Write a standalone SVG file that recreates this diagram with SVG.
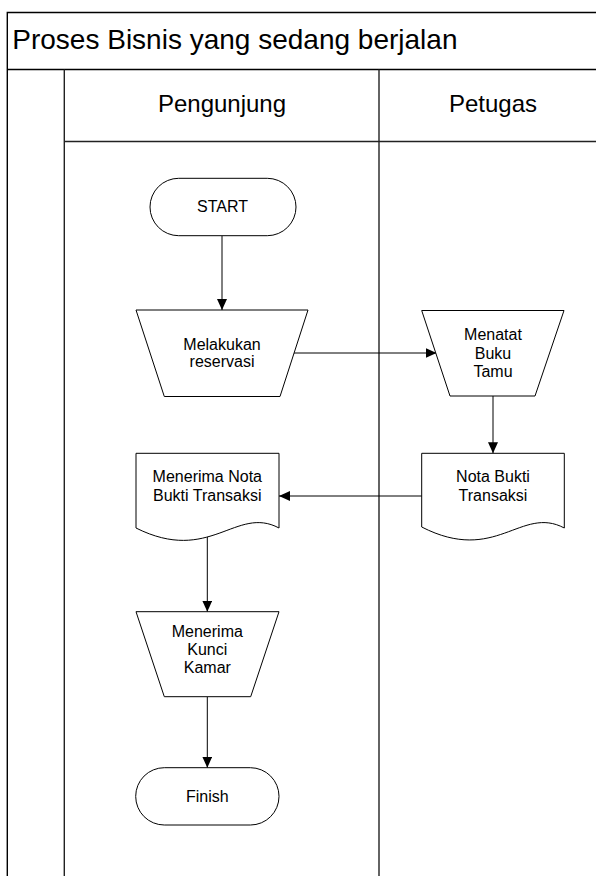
<svg xmlns="http://www.w3.org/2000/svg" width="596" height="876" viewBox="0 0 596 876">
<style>
  .frame { fill: none; stroke: #000; stroke-width: 1.4; }
  .lane { fill: none; stroke: #222; stroke-width: 1.4; }
  .shape { fill: #fff; stroke: #000; stroke-width: 1; }
  .conn { fill: none; stroke: #000; stroke-width: 1; }
  .t { font-family: "Liberation Sans", Arial, sans-serif; fill: #000; text-anchor: middle; font-size: 16px; }
  .title { font-family: "Liberation Sans", Arial, sans-serif; fill: #000; font-size: 28px; }
  .hdr { font-family: "Liberation Sans", Arial, sans-serif; fill: #000; font-size: 24px; text-anchor: middle; }
</style>
<defs>
  <marker id="arrow" markerWidth="11" markerHeight="10" refX="11" refY="5" orient="auto" markerUnits="userSpaceOnUse">
    <path d="M0,0 L11,5 L0,10 Z" fill="#000"/>
  </marker>
</defs>
<rect width="596" height="876" fill="#fff"/>
<g id="pool">
  <path class="frame" d="M7.3,880 V12.5 H600"/>
  <path class="frame" d="M7.3,69.5 H600"/>
  <path class="lane" d="M64.3,69.5 V880"/>
  <path class="lane" d="M379,69.5 V880"/>
  <path class="lane" d="M64.3,141.5 H600"/>
  <text class="title" x="12.3" y="49.3">Proses Bisnis yang sedang berjalan</text>
  <text class="hdr" x="222" y="112">Pengunjung</text>
  <text class="hdr" x="493" y="112">Petugas</text>
</g>
<g id="connectors">
  <path class="conn" d="M222,236 V310" marker-end="url(#arrow)"/>
  <path class="conn" d="M292,353 H436.5" marker-end="url(#arrow)"/>
  <path class="conn" d="M493,396 V453.3" marker-end="url(#arrow)"/>
  <path class="conn" d="M422,496 H279" marker-end="url(#arrow)"/>
  <path class="conn" d="M207.3,536 V611.7" marker-end="url(#arrow)"/>
  <path class="conn" d="M207.3,697 V767.7" marker-end="url(#arrow)"/>
</g>
<g id="start">
  <rect class="shape" x="150" y="178.3" width="146" height="57.4" rx="28.7"/>
  <text class="t" x="222.5" y="212">START</text>
</g>
<g id="melakukan-reservasi">
  <path class="shape" d="M136,310 H308 L280,396.5 H164.3 Z"/>
  <text class="t" x="222" y="350">Melakukan</text>
  <text class="t" x="222" y="367">reservasi</text>
</g>
<g id="menatat-buku-tamu">
  <path class="shape" d="M421.7,310.5 H564 L535,396 H450 Z"/>
  <text class="t" x="493" y="340">Menatat</text>
  <text class="t" x="493" y="358.5">Buku</text>
  <text class="t" x="493" y="377">Tamu</text>
</g>
<g id="nota-bukti-transaksi">
  <path class="shape" d="M421.7,453.3 H564.3 V528 C521,505 496,565 421.7,527 Z"/>
  <text class="t" x="493" y="482.3">Nota Bukti</text>
  <text class="t" x="493" y="501">Transaksi</text>
</g>
<g id="menerima-nota">
  <path class="shape" d="M136,453.3 H279 V528 C236,505 210,565 136,528 Z"/>
  <text class="t" x="207.3" y="482.3">Menerima Nota</text>
  <text class="t" x="207.3" y="500.5">Bukti Transaksi</text>
</g>
<g id="menerima-kunci">
  <path class="shape" d="M136,611.7 H279 L250.7,696.7 H164.3 Z"/>
  <text class="t" x="207.3" y="636.7">Menerima</text>
  <text class="t" x="207.3" y="655">Kunci</text>
  <text class="t" x="207.3" y="673.3">Kamar</text>
</g>
<g id="finish">
  <rect class="shape" x="135.7" y="767.7" width="143.3" height="57.3" rx="28.6"/>
  <text class="t" x="207.3" y="801.7">Finish</text>
</g>
</svg>
